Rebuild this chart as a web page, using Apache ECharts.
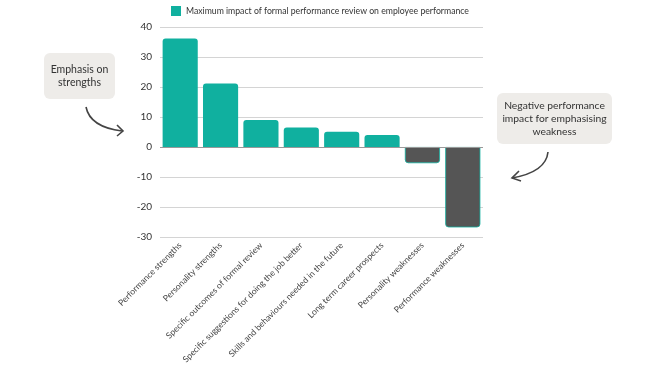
<!DOCTYPE html>
<html><head><meta charset="utf-8">
<script src="https://cdn.jsdelivr.net/npm/echarts@6/dist/echarts.min.js"></script>
<style>html,body{margin:0;padding:0;background:#fff}#c{width:656px;height:369px}</style>
</head><body><div id="c"></div>
<script>
const categories = ["Performance strengths","Personality strengths","Specific outcomes of formal review","Specific suggestions for doing the job better","Skills and behaviours needed in the future","Long term career prospects","Personality weaknesses","Performance weaknesses"];
const values = [36.2, 21.2, 9.0, 6.5, 5.1, 4.0, -5.4, -26.8];
const seriesName = "Maximum impact of formal performance review on employee performance";
const yTicks = {min: -30, max: 40, interval: 10};

const TEAL = "#10b09f", DARK = "#555555", FONT = "Lato, 'Open Sans', sans-serif";
const chart = echarts.init(document.getElementById('c'));
chart.setOption({
  animation: false,
  textStyle: {fontFamily: FONT},
  legend: {left: 166, top: 1, itemWidth: 10, itemHeight: 10, itemGap: 7, icon: 'rect',
    textStyle: {fontSize: 8.7, color: '#333', fontFamily: FONT}},
  grid: {left: 160, right: 173, top: 27, bottom: 132},
  xAxis: {type: 'category', data: categories,
    axisLine: {show: false}, axisTick: {show: false},
    axisLabel: {rotate: 45, interval: 0, fontSize: 8.6, color: '#444', margin: 7, fontFamily: FONT}},
  yAxis: {type: 'value', min: yTicks.min, max: yTicks.max, interval: yTicks.interval,
    axisLabel: {fontSize: 10, color: '#333', margin: 8, fontFamily: FONT},
    splitLine: {lineStyle: {color: '#d4d4d4', width: 1}}},
  series: [{
    name: seriesName, type: 'bar', barCategoryGap: '13%',
    itemStyle: {color: TEAL},
    data: values.map(v => v >= 0
      ? {value: v, itemStyle: {color: TEAL, borderRadius: [3,3,0,0]}}
      : {value: v, itemStyle: {color: DARK, borderColor: TEAL, borderWidth: 0.8, borderRadius: [0,0,3,3]}}),
    markLine: {silent: true, symbol: 'none', label: {show: false},
      lineStyle: {color: '#999', type: 'solid', width: 1}, data: [{yAxis: 0}]}
  }],
  graphic: [
    {type: 'rect', shape: {x: 44, y: 53, width: 71, height: 46, r: 6}, style: {fill: '#eeece9'}},
    {type: 'text', x: 79.5, y: 76, style: {text: 'Emphasis on\nstrengths', fill: '#333', font: '10.5px ' + FONT, align: 'center', verticalAlign: 'middle', lineHeight: 13}},
    {type: 'bezierCurve', shape: {x1: 86, y1: 107, x2: 122, y2: 131, cpx1: 90, cpy1: 127}, style: {stroke: '#444', lineWidth: 1.6, fill: null}},
    {type: 'polyline', shape: {points: [[117, 125], [123, 131], [117, 136]]}, style: {stroke: '#444', lineWidth: 1.6, fill: null}},
    {type: 'rect', shape: {x: 497, y: 93, width: 115, height: 51, r: 6}, style: {fill: '#eeece9'}},
    {type: 'text', x: 554.5, y: 119, style: {text: 'Negative performance\nimpact for emphasising\nweakness', fill: '#333', font: '10.3px ' + FONT, align: 'center', verticalAlign: 'middle', lineHeight: 13}},
    {type: 'bezierCurve', shape: {x1: 548, y1: 152, x2: 512, y2: 178, cpx1: 546, cpy1: 172}, style: {stroke: '#444', lineWidth: 1.6, fill: null}},
    {type: 'polyline', shape: {points: [[519, 171], [512, 178], [521, 181]]}, style: {stroke: '#444', lineWidth: 1.6, fill: null}}
  ]
});
</script></body></html>
